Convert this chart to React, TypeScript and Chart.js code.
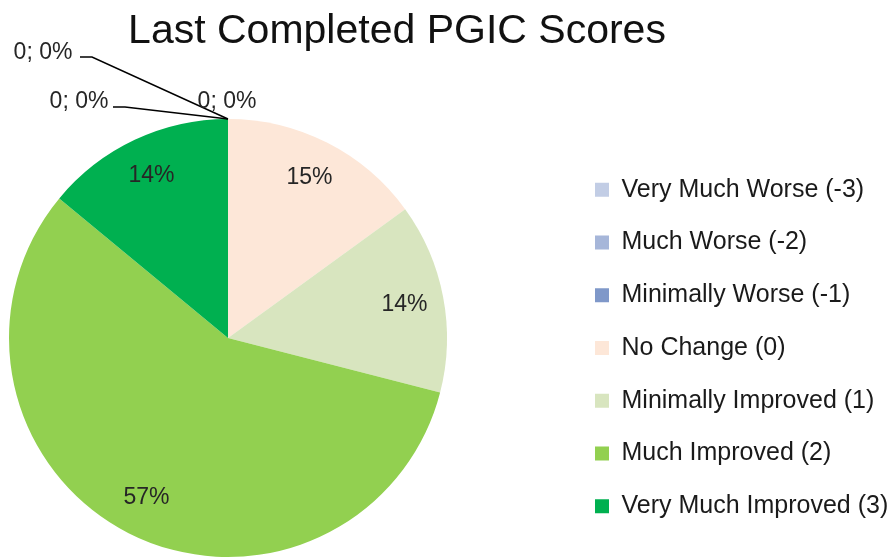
import React, { useEffect, useRef } from "react";
import { Chart, registerables } from "chart.js";

Chart.register(...registerables);

const titleText = "Last Completed PGIC Scores";
const categories = [
  "Very Much Worse (-3)",
  "Much Worse (-2)",
  "Minimally Worse (-1)",
  "No Change (0)",
  "Minimally Improved (1)",
  "Much Improved (2)",
  "Very Much Improved (3)",
];
const percentValues = [0, 0, 0, 15, 14, 57, 14];
const sliceColors = [
  "#C2CDE5",
  "#A6B6D9",
  "#7F98C9",
  "#FDE7D8",
  "#D8E5BF",
  "#92D050",
  "#00B050",
];

const FONT = '"Liberation Sans", Arial, Helvetica, sans-serif';

// leader label layout for zero-value slices (offsets relative to the slice's anchor point)
const zeroLabelLayout: { dx: number; dy: number; line: number[][] | null }[] = [
  { dx: -185, dy: -66, line: [[-148, -62], [-136, -62]] },
  { dx: -149, dy: -17, line: [[-115, -12], [-103, -12]] },
  { dx: -1, dy: -17, line: null },
];

const layoutPlugin = {
  id: "fixedLayout",
  afterLayout(chart: any) {
    const ca = chart.chartArea;
    ca.left = 9;
    ca.right = 447;
    ca.top = 119;
    ca.bottom = 557;
    ca.width = 438;
    ca.height = 438;
    const lg = chart.legend;
    if (lg) {
      const pad = lg.options.labels.padding;
      const w = lg.width;
      lg.left = 595 - pad;
      lg.right = lg.left + w;
      lg.top = 149.5;
      lg.bottom = 558;
      lg.height = lg.bottom - lg.top;
    }
  },
};

const labelPlugin = {
  id: "sliceLabels",
  afterDatasetsDraw(chart: any) {
    const ctx = chart.ctx;
    const meta = chart.getDatasetMeta(0);
    const data = chart.data.datasets[0].data as number[];
    const total = data.reduce((a, b) => a + b, 0);
    ctx.save();
    ctx.font = `23px ${FONT}`;
    ctx.fillStyle = "#262626";
    ctx.textAlign = "center";
    ctx.textBaseline = "middle";
    let zi = 0;
    meta.data.forEach((arc: any, i: number) => {
      const { x, y, startAngle, endAngle, outerRadius } = arc.getProps(
        ["x", "y", "startAngle", "endAngle", "outerRadius"],
        true
      );
      const v = data[i];
      const pct = Math.round((v / total) * 100);
      if (v > 0) {
        const mid = (startAngle + endAngle) / 2;
        const d = outerRadius * 0.82;
        ctx.fillText(`${pct}%`, x + Math.cos(mid) * d, y + Math.sin(mid) * d);
      } else {
        const ax = x + Math.cos(startAngle) * outerRadius;
        const ay = y + Math.sin(startAngle) * outerRadius;
        const lay = zeroLabelLayout[zi % zeroLabelLayout.length];
        zi++;
        if (lay.line) {
          ctx.beginPath();
          ctx.strokeStyle = "#000";
          ctx.lineWidth = 1.5;
          ctx.moveTo(ax + lay.line[0][0], ay + lay.line[0][1]);
          for (let k = 1; k < lay.line.length; k++) {
            ctx.lineTo(ax + lay.line[k][0], ay + lay.line[k][1]);
          }
          ctx.lineTo(ax, ay);
          ctx.stroke();
        }
        ctx.fillText(`${v}; ${pct}%`, ax + lay.dx, ay + lay.dy);
      }
    });
    ctx.restore();
  },
  afterDraw(chart: any) {
    const ctx = chart.ctx;
    ctx.save();
    ctx.font = `41px ${FONT}`;
    ctx.fillStyle = "#111";
    ctx.textAlign = "center";
    ctx.textBaseline = "alphabetic";
    ctx.fillText(titleText, 397, 43);
    ctx.restore();
  },
};

export default function App() {
  const ref = useRef<HTMLCanvasElement | null>(null);
  useEffect(() => {
    document.body.style.margin = "0";
    const canvas = ref.current;
    if (!canvas) return;
    const chart = new Chart(canvas, {
      type: "pie",
      data: {
        labels: categories,
        datasets: [
          {
            data: percentValues,
            backgroundColor: sliceColors,
            borderWidth: 0,
            hoverOffset: 0,
            offset: 0,
          },
        ],
      },
      options: {
        animation: false,
        responsive: false,
        layout: { padding: 0 },
        plugins: {
          title: { display: false },
          tooltip: { enabled: false },
          legend: {
            display: true,
            position: "right",
            align: "start",
            labels: {
              boxWidth: 14,
              boxHeight: 14,
              padding: 27.75,
              color: "#1a1a1a",
              font: { family: FONT, size: 25 },
            },
          },
        },
      },
      plugins: [layoutPlugin, labelPlugin],
    });
    return () => chart.destroy();
  }, []);
  return (
    <div style={{ position: "fixed", left: 0, top: 0, width: 896, height: 558, background: "#fff" }}>
      <canvas ref={ref} width={896} height={558} style={{ width: 896, height: 558, display: "block" }} />
    </div>
  );
}
